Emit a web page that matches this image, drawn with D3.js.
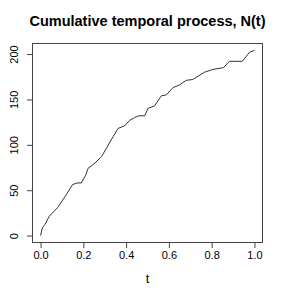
<!DOCTYPE html>
<html>
<head>
<meta charset="utf-8">
<script src="https://cdn.jsdelivr.net/npm/d3@7"></script>
<style>
	body { margin: 0; background: #fff; }
	svg { display: block; font-family: "Liberation Sans", Arial, sans-serif; }
</style>
</head>
<body>
<div id="chart"></div>
<script>
//values
var tValues = [0, 0.009, 0.02, 0.04, 0.06, 0.08, 0.095, 0.12, 0.149, 0.17, 0.19, 0.21, 0.222, 0.25, 0.285, 0.31, 0.339, 0.362, 0.393, 0.417, 0.44, 0.46, 0.487, 0.502, 0.533, 0.565, 0.588, 0.619, 0.65, 0.681, 0.712, 0.767, 0.805, 0.855, 0.883, 0.943, 0.977, 1.0];
var nValues = [0, 9, 12, 21, 26, 31, 36, 45, 56, 58, 58, 66, 74, 79, 87, 97, 109, 118, 121, 127, 130, 132, 132, 140, 143, 154, 155, 163, 166, 171, 172, 180, 183, 185, 192, 192, 202, 204];
var xTicks = [0, 0.2, 0.4, 0.6, 0.8, 1.0];
var yTicks = [0, 50, 100, 150, 200];
var title = "Cumulative temporal process, N(t)";
var xLabel = "t";

//plot frame (avoid window.top clash)
var chartWidth = 296, chartHeight = 296,
	plotLeft = 32, plotRight = 263, plotTop = 43, plotBottom = 243;

var x = d3.scaleLinear().domain([-0.04, 1.04]).range([plotLeft, plotRight]);
var y = d3.scaleLinear().domain([-8.16, 212.16]).range([plotBottom, plotTop]);

var svg = d3.select("#chart").append("svg")
	.attr("width", chartWidth)
	.attr("height", chartHeight);

//title
svg.append("text")
	.attr("x", (plotLeft + plotRight) / 2)
	.attr("y", 26)
	.attr("text-anchor", "middle")
	.style("font-weight", "bold")
	.style("font-size", "14.5px")
	.text(title);

//x axis
var xAxis = svg.append("g")
	.attr("transform", "translate(0," + plotBottom + ")")
	.call(d3.axisBottom(x).tickValues(xTicks).tickSize(5).tickPadding(3).tickFormat(d3.format(".1f")));
xAxis.select(".domain").remove();
xAxis.selectAll("line").attr("stroke", "#444");
xAxis.selectAll("text").style("font-size", "11px").attr("fill", "#000");

//y axis, labels rotated like R
var yAxis = svg.append("g")
	.attr("transform", "translate(" + plotLeft + ",0)")
	.call(d3.axisLeft(y).tickValues(yTicks).tickSize(5));
yAxis.select(".domain").remove();
yAxis.selectAll("line").attr("stroke", "#444");
yAxis.selectAll("text")
	.attr("transform", "rotate(-90)")
	.attr("x", 0)
	.attr("y", -14.5)
	.attr("dy", 0)
	.attr("text-anchor", "middle")
	.style("font-size", "11px")
	.attr("fill", "#000");

//x label
svg.append("text")
	.attr("x", (plotLeft + plotRight) / 2)
	.attr("y", 283)
	.attr("text-anchor", "middle")
	.style("font-size", "13px")
	.text(xLabel);

//box
svg.append("rect")
	.attr("x", plotLeft + 0.5)
	.attr("y", plotTop + 0.5)
	.attr("width", plotRight - plotLeft - 1)
	.attr("height", plotBottom - plotTop - 1)
	.attr("fill", "none")
	.attr("stroke", "#444");

//cumulative line
var points = tValues.map(function(t, i) { return [t, nValues[i]]; });
svg.append("path")
	.datum(points)
	.attr("fill", "none")
	.attr("stroke", "#333")
	.attr("stroke-width", 1)
	.attr("d", d3.line()
		.x(function(d) { return x(d[0]); })
		.y(function(d) { return y(d[1]); }));
</script>
</body>
</html>
